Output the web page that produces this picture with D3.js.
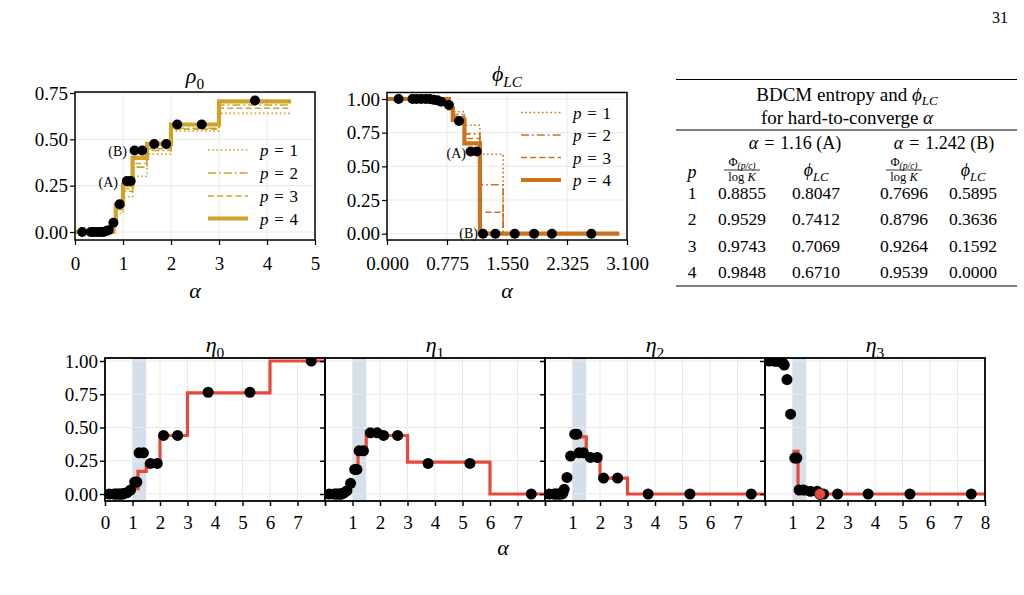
<!DOCTYPE html>
<html>
<head>
<meta charset="utf-8">
<script src="https://cdn.jsdelivr.net/npm/d3@7"></script>
<style>
body { margin: 0; background: #fff; }
svg text { font-family: "Liberation Serif", "DejaVu Serif", serif; fill: #000; }
</style>
</head>
<body>
<svg id="fig" width="1024" height="595"></svg>
<script>
// alpha values of the black data points (shared by all panels)
const alphaPts = [0.15, 0.33, 0.38, 0.44, 0.5, 0.55, 0.6, 0.65, 0.7, 0.8, 0.93, 1.08, 1.16, 1.24, 1.4, 1.65, 1.9, 2.13, 2.64, 3.75, 5.27, 7.5];
const rhoPts = [0, 0, 0, 0, 0, 0, 0, 0.005, 0.01, 0.05, 0.15, 0.275, 0.275, 0.44, 0.44, 0.475, 0.475, 0.58, 0.58, 0.71];
const phiPts = [1, 1, 1, 1, 1, 1, 0.995, 0.99, 0.98, 0.955, 0.837, 0.61, 0.61, 0, 0, 0, 0, 0, 0];
const eta0Pts = [0, 0, 0, 0, 0, 0, 0, 0, 0.005, 0.01, 0.03, 0.09, 0.09, 0.31, 0.31, 0.23, 0.23, 0.44, 0.44, 0.765, 0.765, 1.0];
const eta1Pts = [0, 0, 0, 0, 0, 0, 0, 0.005, 0.01, 0.025, 0.08, 0.185, 0.185, 0.325, 0.325, 0.46, 0.46, 0.44, 0.44, 0.23, 0.23, 0];
const eta2Pts = [0, 0, 0, 0, 0, 0, 0, 0.005, 0.035, 0.125, 0.285, 0.45, 0.45, 0.31, 0.31, 0.275, 0.275, 0.12, 0.12, 0, 0, 0];
const eta3Pts = [1, 1, 1, 1, 1, 1, 0.99, 0.985, 0.97, 0.86, 0.6, 0.27, 0.27, 0.03, 0.03, 0.02, 0.02, 0, 0, 0, 0, 0];
const redAlpha = [2.0];
const redEta3 = [0];

// rho_0 step curves (value on [step_i, step_i+1))
const rhoSteps = [0, 0.8, 0.85, 1.0, 1.2, 1.5, 2, 3, 4.5];
const rhoP1 = [0, 0.04, 0.10, 0.19, 0.30, 0.42, 0.545, 0.64];
const rhoP2 = [0, 0.045, 0.12, 0.22, 0.35, 0.44, 0.56, 0.685];
const rhoP3 = [0, 0.05, 0.13, 0.235, 0.37, 0.45, 0.555, 0.668];
const rhoP4 = [0, 0.06, 0.146, 0.254, 0.40, 0.475, 0.58, 0.705];

// table values
const tableP = [1, 2, 3, 4];
const entropyA = [0.8855, 0.9529, 0.9743, 0.9848];
const phiA = [0.8047, 0.7412, 0.7069, 0.6710];
const entropyB = [0.7696, 0.8796, 0.9264, 0.9539];
const phiB = [0.5895, 0.3636, 0.1592, 0.0000];

// phi_LC step curves: alpha=1.16 and 1.242 levels come from the table
const phiSteps = [0, 0.8, 0.85, 1.0, 1.2, 1.5, 3.0];
const phiEarly = [0.94, 0.94, 0.935, 0.93];
const phiMid = [0.905, 0.885, 0.87, 0.845];

// eta step curves (red)
const etaSteps = [1, 1.2, 1.5, 2, 3, 6, 8];
const eta0Line = [0.04, 0.17, 0.23, 0.44, 0.76, 1.0];
const eta1Line = [0.19, 0.33, 0.47, 0.44, 0.24, 0];
const eta2Line = [0.45, 0.43, 0.28, 0.12, 0, 0];
const eta3Line = [0.32, 0.05, 0, 0, 0, 0];
const bandRange = [1.0, 1.5];

// ticks
const rhoXTicks = [0, 1, 2, 3, 4, 5];
const rhoYTicks = [0, 0.25, 0.5, 0.75];
const phiXTicks = [0, 0.775, 1.55, 2.325, 3.1];
const phiYTicks = [0, 0.25, 0.5, 0.75, 1];
const etaXTicks = [0, 1, 2, 3, 4, 5, 6, 7, 8];
const etaYTicks = [0, 0.25, 0.5, 0.75, 1];

var svg = d3.select("#fig");
var gridColor = "#e9e9e9";
var gold = "#cfa22a";
var orange = "#c8731b";
var red = "#e8493a";
var tickFont = 19;
var eq = "\u2004=\u2004";
var dashes = ["1.6,2.6", "8,3,1.8,3", "6,3.2", null];
var widths = [1.6, 1.6, 1.6, 4.2];

function mathText(sel, x, y, base, sub, size, anchor, subItalic) {
  var t = sel.append("text").attr("x", x).attr("y", y)
    .attr("text-anchor", anchor || "middle").attr("font-size", size);
  t.append("tspan").attr("font-style", "italic").text(base);
  if (sub) {
    t.append("tspan").attr("font-size", size * 0.7).attr("dy", size * 0.25)
      .attr("font-style", subItalic ? "italic" : "normal").text(sub);
  }
  return t;
}

function stepPath(xs, ys, sx, sy) {
  var pts = ys.map(function(v, i) { return [xs[i], v]; });
  pts.push([xs[xs.length - 1], ys[ys.length - 1]]);
  return d3.line().x(function(d) { return sx(d[0]); }).y(function(d) { return sy(d[1]); })
    .curve(d3.curveStepAfter)(pts);
}

function makePanel(c) {
  var g = svg.append("g");
  var x0 = c.x.range()[0], x1 = c.x.range()[1];
  svg.append("clipPath").attr("id", c.id).append("rect")
    .attr("x", x0).attr("y", c.top).attr("width", x1 - x0).attr("height", c.bottom - c.top);
  var grid = g.append("g").attr("stroke", gridColor).attr("stroke-width", 1);
  grid.selectAll("line.v").data(c.xgrid).enter().append("line")
    .attr("x1", function(d) { return c.x(d); }).attr("x2", function(d) { return c.x(d); })
    .attr("y1", c.top).attr("y2", c.bottom);
  grid.selectAll("line.h").data(c.ygrid).enter().append("line")
    .attr("y1", function(d) { return c.y(d); }).attr("y2", function(d) { return c.y(d); })
    .attr("x1", x0).attr("x2", x1);
  var inner = g.append("g").attr("clip-path", "url(#" + c.id + ")");
  return { g: g, inner: inner, c: c };
}

function finishPanel(p) {
  var c = p.c, g = p.g;
  var x0 = c.x.range()[0], x1 = c.x.range()[1];
  var ax = g.append("g").attr("transform", "translate(0," + c.bottom + ")")
    .call(d3.axisBottom(c.x).tickValues(c.xticks).tickSize(5).tickPadding(c.xpad).tickFormat(c.xfmt));
  ax.select(".domain").remove();
  ax.attr("font-family", null).attr("font-size", tickFont);
  ax.selectAll("line").attr("stroke-width", c.bw * 0.8);
  var ay = g.append("g").attr("transform", "translate(" + x0 + ",0)")
    .call(d3.axisLeft(c.y).tickValues(c.yticks).tickSize(5).tickPadding(2).tickFormat(c.yfmt));
  ay.select(".domain").remove();
  ay.attr("font-family", null).attr("font-size", tickFont);
  ay.selectAll("line").attr("stroke-width", c.bw * 0.8);
  g.append("rect").attr("x", x0).attr("y", c.top).attr("width", x1 - x0).attr("height", c.bottom - c.top)
    .attr("fill", "none").attr("stroke", "#000").attr("stroke-width", c.bw);
}

function dots(sel, xs, ys, sx, sy, r) {
  sel.selectAll(null).data(ys).enter().append("circle")
    .attr("cx", function(d, i) { return sx(xs[i]); })
    .attr("cy", function(d) { return sy(d); })
    .attr("r", r).attr("fill", "#000");
}

function legend(sel, x, ys, color) {
  ys.forEach(function(y, i) {
    var l = sel.append("line").attr("x1", x).attr("x2", x + 40).attr("y1", y).attr("y2", y)
      .attr("stroke", color).attr("stroke-width", widths[i]);
    if (dashes[i]) l.attr("stroke-dasharray", dashes[i]);
    var t = sel.append("text").attr("x", x + 52).attr("y", y + 6).attr("font-size", 17);
    t.append("tspan").attr("font-style", "italic").text("p");
    t.append("tspan").text(eq + (i + 1));
  });
}

// ---------- rho_0 ----------
var rhoX = d3.scaleLinear().domain([0, 5]).range([75, 315]);
var rhoY = d3.scaleLinear().domain([0, 0.75]).range([232, 93]);
var pr = makePanel({ id: "cr", x: rhoX, y: rhoY, top: 92, bottom: 240, xgrid: rhoXTicks, ygrid: rhoYTicks,
  xticks: rhoXTicks, yticks: rhoYTicks, xfmt: d3.format("d"), yfmt: d3.format(".2f"), xpad: 12, bw: 1.5 });
[rhoP1, rhoP2, rhoP3, rhoP4].forEach(function(vals, i) {
  var l = pr.inner.append("path").attr("d", stepPath(rhoSteps, vals, rhoX, rhoY))
    .attr("fill", "none").attr("stroke", gold).attr("stroke-width", widths[i]);
  if (dashes[i]) l.attr("stroke-dasharray", dashes[i]);
});
dots(pr.inner, alphaPts, rhoPts, rhoX, rhoY, 5);
finishPanel(pr);
legend(pr.g, 208, [150, 173, 196, 218.5], gold);
pr.g.append("text").attr("x", 127).attr("y", 156).attr("text-anchor", "end").attr("font-size", 14).text("(B)");
pr.g.append("text").attr("x", 118).attr("y", 187).attr("text-anchor", "end").attr("font-size", 14).text("(A)");
mathText(svg, 195, 83, "ρ", "0", 22, "middle", false);
mathText(svg, 195, 298, "α", null, 22);

// ---------- phi_LC ----------
var phiX = d3.scaleLinear().domain([0, 3.1]).range([387, 627]);
var phiY = d3.scaleLinear().domain([0, 1]).range([233.7, 99]);
var pp = makePanel({ id: "cp", x: phiX, y: phiY, top: 92.5, bottom: 240, xgrid: phiXTicks, ygrid: phiYTicks,
  xticks: phiXTicks, yticks: phiYTicks, xfmt: d3.format(".3f"), yfmt: d3.format(".2f"), xpad: 12, bw: 1.5 });
[0, 1, 2, 3].forEach(function(i) {
  var vals = [1, phiEarly[i], phiMid[i], phiA[i], phiB[i], 0];
  var l = pp.inner.append("path").attr("d", stepPath(phiSteps, vals, phiX, phiY))
    .attr("fill", "none").attr("stroke", orange).attr("stroke-width", widths[i]);
  if (dashes[i]) l.attr("stroke-dasharray", dashes[i]);
});
dots(pp.inner, alphaPts, phiPts, phiX, phiY, 5);
finishPanel(pp);
legend(pp.g, 521, [112.5, 135, 157.5, 180], orange);
pp.g.append("text").attr("x", 466).attr("y", 158).attr("text-anchor", "end").attr("font-size", 14).text("(A)");
pp.g.append("text").attr("x", 478).attr("y", 238).attr("text-anchor", "end").attr("font-size", 14).text("(B)");
mathText(svg, 507, 81, "ϕ", "LC", 22, "middle", true);
mathText(svg, 507, 298, "α", null, 22);

// ---------- eta panels ----------
var etaPts = [eta0Pts, eta1Pts, eta2Pts, eta3Pts];
var etaLines = [eta0Line, eta1Line, eta2Line, eta3Line];
var etaY = d3.scaleLinear().domain([0, 1]).range([494, 361]);
etaPts.forEach(function(pts, k) {
  var x0 = 105 + 220 * k;
  var ex = d3.scaleLinear().domain([0, 8]).range([x0, x0 + 220]);
  var shown = k === 0 ? [0, 1, 2, 3, 4, 5, 6, 7] : (k === 3 ? [1, 2, 3, 4, 5, 6, 7, 8] : [1, 2, 3, 4, 5, 6, 7]);
  var pe = makePanel({ id: "ce" + k, x: ex, y: etaY, top: 358, bottom: 501, xgrid: etaXTicks.slice(1, 8), ygrid: etaYTicks,
    xticks: etaXTicks, yticks: etaYTicks,
    xfmt: function(d) { return shown.indexOf(d) >= 0 ? d : ""; },
    yfmt: k === 0 ? d3.format(".2f") : function() { return ""; }, xpad: 10, bw: 1.8 });
  pe.g.insert("rect", "g").attr("x", ex(bandRange[0])).attr("width", ex(bandRange[1]) - ex(bandRange[0]))
    .attr("y", 358).attr("height", 143).attr("fill", "#d4dfea");
  pe.inner.append("path").attr("d", stepPath(etaSteps, etaLines[k], ex, etaY))
    .attr("fill", "none").attr("stroke", red).attr("stroke-width", 3.2);
  dots(pe.inner, alphaPts, pts, ex, etaY, 5.5);
  if (k === 3) {
    pe.inner.selectAll(null).data(redEta3).enter().append("circle")
      .attr("cx", function(d, i) { return ex(redAlpha[i]); }).attr("cy", function(d) { return etaY(d); })
      .attr("r", 5.5).attr("fill", red).attr("stroke", "#222").attr("stroke-width", 1);
  }
  finishPanel(pe);
  mathText(svg, x0 + 110, 352, "η", String(k), 22, "middle", false);
});
mathText(svg, 503, 555, "α", null, 22);

// ---------- table ----------
var tb = svg.append("g");
tb.append("line").attr("x1", 676).attr("x2", 1017).attr("y1", 79.5).attr("y2", 79.5).attr("stroke", "#000").attr("stroke-width", 1.2);
tb.append("line").attr("x1", 676).attr("x2", 1017).attr("y1", 130).attr("y2", 130).attr("stroke", "#000").attr("stroke-width", 1);
tb.append("line").attr("x1", 676).attr("x2", 1017).attr("y1", 286).attr("y2", 286).attr("stroke", "#000").attr("stroke-width", 1.2);
var t1 = tb.append("text").attr("x", 847).attr("y", 101).attr("text-anchor", "middle").attr("font-size", 19);
t1.append("tspan").text("BDCM entropy and ");
t1.append("tspan").attr("font-style", "italic").text("ϕ");
t1.append("tspan").attr("font-style", "italic").attr("font-size", 13).attr("dy", 4).text("LC");
var t2 = tb.append("text").attr("x", 847).attr("y", 124).attr("text-anchor", "middle").attr("font-size", 19);
t2.append("tspan").text("for hard-to-converge ");
t2.append("tspan").attr("font-style", "italic").text("α");
[[795, "1.16 (A)"], [944, "1.242 (B)"]].forEach(function(h) {
  var t = tb.append("text").attr("x", h[0]).attr("y", 149).attr("text-anchor", "middle").attr("font-size", 18);
  t.append("tspan").attr("font-style", "italic").text("α");
  t.append("tspan").text(eq + h[1]);
});
var colX = [692, 742, 816, 904, 973];
mathText(tb, colX[0], 178, "p", null, 18);
[colX[1], colX[3]].forEach(function(cx) {
  var n = tb.append("text").attr("x", cx).attr("y", 166).attr("text-anchor", "middle").attr("font-size", 12.5);
  n.append("tspan").text("Φ");
  n.append("tspan").attr("font-size", 9.5).attr("dy", 2.5).attr("font-style", "italic").text("(p/c)");
  tb.append("line").attr("x1", cx - 18).attr("x2", cx + 18).attr("y1", 170).attr("y2", 170).attr("stroke", "#000").attr("stroke-width", 0.8);
  var d = tb.append("text").attr("x", cx).attr("y", 180.5).attr("text-anchor", "middle").attr("font-size", 12.5);
  d.append("tspan").text("log ");
  d.append("tspan").attr("font-style", "italic").text("K");
});
[colX[2], colX[4]].forEach(function(cx) {
  mathText(tb, cx, 176, "ϕ", "LC", 18, "middle", true);
});
var fmt4 = d3.format(".4f");
tableP.forEach(function(p, i) {
  var y = 199 + i * 26.3;
  var row = [String(p), fmt4(entropyA[i]), fmt4(phiA[i]), fmt4(entropyB[i]), fmt4(phiB[i])];
  row.forEach(function(s, j) {
    tb.append("text").attr("x", colX[j]).attr("y", y).attr("text-anchor", "middle").attr("font-size", 17.5).text(s);
  });
});

// page number
svg.append("text").attr("x", 1008).attr("y", 23).attr("text-anchor", "end").attr("font-size", 16).text("31");
</script>
</body>
</html>
